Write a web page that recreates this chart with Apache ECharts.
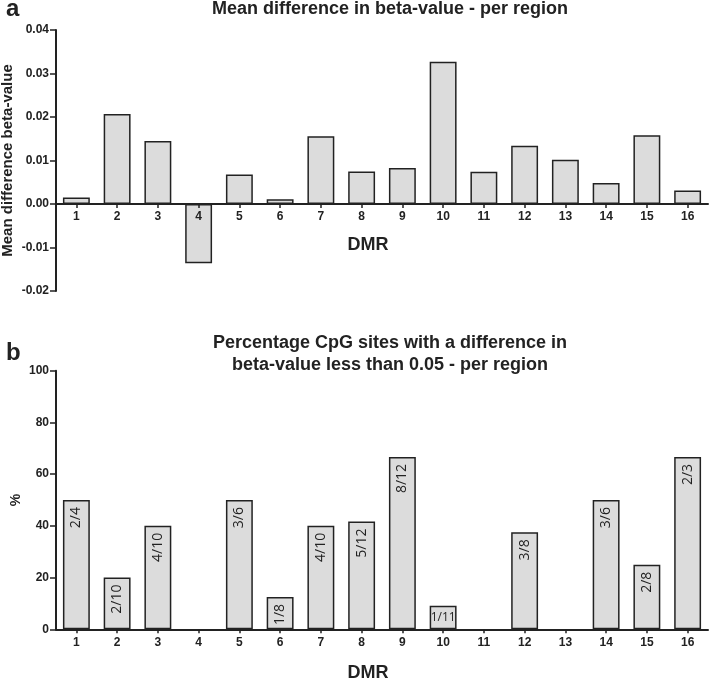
<!DOCTYPE html>
<html>
<head>
<meta charset="utf-8">
<script src="https://cdn.jsdelivr.net/npm/echarts@6/dist/echarts.min.js"></script>
<style>
html,body{margin:0;padding:0;background:#fff;}
#chart{width:709px;height:680px;}
</style>
</head>
<body>
<div id="chart"></div>
<script>
// ---- data ----
const categories = ['1','2','3','4','5','6','7','8','9','10','11','12','13','14','15','16'];
const meanDiff = [0.0015, 0.0207, 0.0145, -0.0136, 0.0068, 0.0011, 0.0156, 0.0075, 0.0083, 0.0327, 0.0074, 0.0134, 0.0102, 0.0048, 0.0158, 0.0031];
const pctValues = [50, 20, 40, 0, 50, 12.5, 40, 41.67, 66.67, 9.09, 0, 37.5, 0, 50, 25, 66.67];
const pctLabels = ['2/4','2/10','4/10','','3/6','1/8','4/10','5/12','8/12','1/11','','3/8','','3/6','2/8','2/3'];
const titleA = 'Mean difference in beta-value - per region';
const titleB = 'Percentage CpG sites with a difference in\nbeta-value less than 0.05 - per region';
const yNameA = 'Mean difference beta-value';
const yNameB = '%';
const xName = 'DMR';

const FONT = "'Liberation Sans', Arial, sans-serif";
const INK = '#222';

const chart = echarts.init(document.getElementById('chart'), null, {renderer: 'canvas'});

// grid A: value range -0.02..0.04 over 261px; x axis sits on the zero line
const gridAHeight = 261;
const zeroOffsetA = -gridAHeight * (0 - (-0.02)) / (0.04 - (-0.02));

function xAxisCfg(gridIndex, offset, nameGap) {
  return {
    type: 'category', gridIndex, data: categories, offset, z: 5,
    axisLine: {onZero: false, lineStyle: {color: INK, width: 2}},
    axisTick: {show: true, alignWithLabel: true, length: 4, lineStyle: {color: INK, width: 1.5}},
    axisLabel: {color: INK, fontWeight: 'bold', fontSize: 12, fontFamily: FONT, margin: 7, interval: 0},
    name: xName, nameLocation: 'middle', nameGap, nameMoveOverlap: false,
    nameTextStyle: {color: INK, fontWeight: 'bold', fontSize: 18, fontFamily: FONT, padding: [0, 28, 0, 0]}
  };
}

const barStyle = {color: '#dcdcdc', borderColor: INK, borderWidth: 1.5};

const pctData = pctValues.map((v, i) => {
  const d = {value: v};
  if (v === 0) {
    d.itemStyle = {borderWidth: 0};
  }
  if (pctLabels[i] === '1/11') {
    d.label = {rotate: 0, position: 'inside', align: 'center', verticalAlign: 'middle', fontSize: 12};
  }
  return d;
});

const option = {
  animation: false,
  backgroundColor: '#fff',
  title: [
    {text: 'a', left: 1, top: -8, textStyle: {fontSize: 24, fontWeight: 'bold', color: INK, fontFamily: FONT}},
    {text: titleA, left: 385, textAlign: 'center', top: -5, textStyle: {fontSize: 18, fontWeight: 'bold', color: INK, fontFamily: FONT}},
    {text: 'b', left: 1, top: 336, textStyle: {fontSize: 24, fontWeight: 'bold', color: INK, fontFamily: FONT}},
    {text: titleB, left: 385, textAlign: 'center', top: 327, textStyle: {fontSize: 18, fontWeight: 'bold', color: INK, fontFamily: FONT, lineHeight: 22}}
  ],
  grid: [
    {left: 56, right: 1, top: 30, height: gridAHeight, containLabel: false, outerBoundsMode: 'none'},
    {left: 56, right: 1, top: 370.7, height: 258.6, containLabel: false, outerBoundsMode: 'none'}
  ],
  xAxis: [xAxisCfg(0, zeroOffsetA, 32), xAxisCfg(1, 0, 35)],
  yAxis: [
    {
      type: 'value', gridIndex: 0, min: -0.02, max: 0.04, interval: 0.01,
      splitLine: {show: false},
      axisLine: {show: true, lineStyle: {color: INK, width: 2}},
      axisTick: {show: true, length: 6, lineStyle: {color: INK, width: 1.5}},
      axisLabel: {color: INK, fontWeight: 'bold', fontSize: 12, fontFamily: FONT, margin: 7,
        formatter: v => (Math.abs(v) < 1e-9 ? 0 : v).toFixed(2)},
      name: yNameA, nameLocation: 'middle', nameGap: 41, nameRotate: 90, nameMoveOverlap: false,
      nameTextStyle: {color: INK, fontWeight: 'bold', fontSize: 15, fontFamily: FONT}
    },
    {
      type: 'value', gridIndex: 1, min: 0, max: 100, interval: 20,
      splitLine: {show: false},
      axisLine: {show: true, lineStyle: {color: INK, width: 2}},
      axisTick: {show: true, length: 6, lineStyle: {color: INK, width: 1.5}},
      axisLabel: {color: INK, fontWeight: 'bold', fontSize: 12, fontFamily: FONT, margin: 7},
      name: yNameB, nameLocation: 'middle', nameGap: 33, nameRotate: 90, nameMoveOverlap: false,
      nameTextStyle: {color: INK, fontWeight: 'bold', fontSize: 14, fontFamily: FONT}
    }
  ],
  series: [
    {
      type: 'bar', xAxisIndex: 0, yAxisIndex: 0, data: meanDiff,
      barWidth: '66%', itemStyle: barStyle
    },
    {
      type: 'bar', xAxisIndex: 1, yAxisIndex: 1, data: pctData,
      barWidth: '66%', itemStyle: barStyle,
      label: {
        show: true, position: 'insideTop', rotate: 90, align: 'right', verticalAlign: 'middle',
        distance: 7, color: INK, fontSize: 14, fontFamily: "'Open Sans', 'Noto Sans', sans-serif",
        formatter: p => pctLabels[p.dataIndex]
      }
    }
  ]
};
chart.setOption(option);
</script>
</body>
</html>
